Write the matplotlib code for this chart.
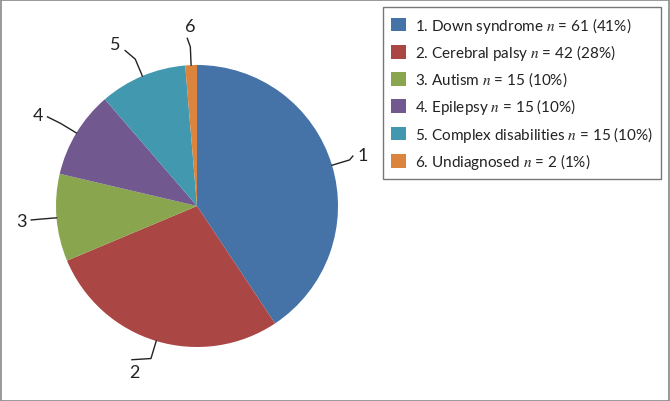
import numpy as np
import matplotlib
matplotlib.use("Agg")
import matplotlib.pyplot as plt
from matplotlib.patches import Patch, Rectangle

plt.rcParams['font.family'] = ['Lato', 'DejaVu Sans']
plt.rcParams['mathtext.fontset'] = 'stix'

# data
numbers = ['1', '2', '3', '4', '5', '6']
names = ['Down syndrome', 'Cerebral palsy', 'Autism', 'Epilepsy',
         'Complex disabilities', 'Undiagnosed']
counts = [61, 42, 15, 15, 15, 2]
percents = [41, 28, 10, 10, 10, 1]
colors = ['#4572A7', '#AA4643', '#89A54E', '#71588F', '#4198AF', '#DB843D']

# label placement tweaks (angle shift in degrees, radius)
label_shift = [0.4, -3.7, 0.2, 1.6, 3.9, -0.2]
label_rad = [1.23, 1.26, 1.25, 1.30, 1.29, 1.28]

W, H = 670, 402
fig = plt.figure(figsize=(W / 100, H / 100), dpi=100)

# pie: circle centred at (197, 207) px, radius 141 px
ax = fig.add_axes([56 / W, (H - 348) / H, 282 / W, 282 / H])
wedges, _ = ax.pie(counts, colors=colors, startangle=90, counterclock=False,
                   wedgeprops=dict(linewidth=0))
ax.set_xlim(-1, 1)
ax.set_ylim(-1, 1)
ax.set_axis_off()

# numbered labels with leader lines
for w, num, da, r in zip(wedges, numbers, label_shift, label_rad):
    mid = (w.theta1 + w.theta2) / 2
    ang = np.deg2rad(mid)
    c, s = np.cos(ang), np.sin(ang)
    la = np.deg2rad(mid + da)
    lc, ls = np.cos(la), np.sin(la)
    lx, ly = r * lc, r * ls
    ex, ey = 1.13 * c, 1.13 * s
    # end of the leader: a bit short of the label, mostly sideways
    if abs(ls) > 0.9:
        tx, ty = lx + 0.02 * np.sign(lc), ly - 0.09 * np.sign(ls)
    elif abs(ls) > 0.6:
        tx, ty = lx - 0.07 * np.sign(lc), ly - 0.05 * np.sign(ls)
    else:
        tx, ty = lx - 0.07 * np.sign(lc), ly - 0.01 * np.sign(ls)
    ax.plot([c, ex, tx], [s, ey, ty], color='#222222', lw=1, clip_on=False,
            solid_joinstyle='round')
    ax.text(lx, ly, num, ha='center', va='center', fontsize=13,
            color='#222222')

# legend
handles = [Patch(facecolor=col, edgecolor='none') for col in colors]
labels = [f'{n}. {nm} $n$ = {ct} ({p}%)'
          for n, nm, ct, p in zip(numbers, names, counts, percents)]
leg = fig.legend(handles, labels, loc='upper left',
                 bbox_to_anchor=(383 / W, 1 - 8 / H), fontsize=11,
                 frameon=True, fancybox=False, edgecolor='#555555',
                 handlelength=1.0, handleheight=1.0, handletextpad=0.6,
                 labelspacing=0.5, borderpad=0.5, borderaxespad=0)
leg.get_frame().set_linewidth(1)
for t in leg.get_texts():
    t.set_color('#222222')

# outer frame
fig.patches.append(Rectangle((0.5 / W, 0.5 / H), 1 - 1.5 / W, 1 - 1.5 / H,
                             transform=fig.transFigure, fill=False,
                             edgecolor='#888888', lw=1.2))

fig.savefig('out.png', dpi=100)
